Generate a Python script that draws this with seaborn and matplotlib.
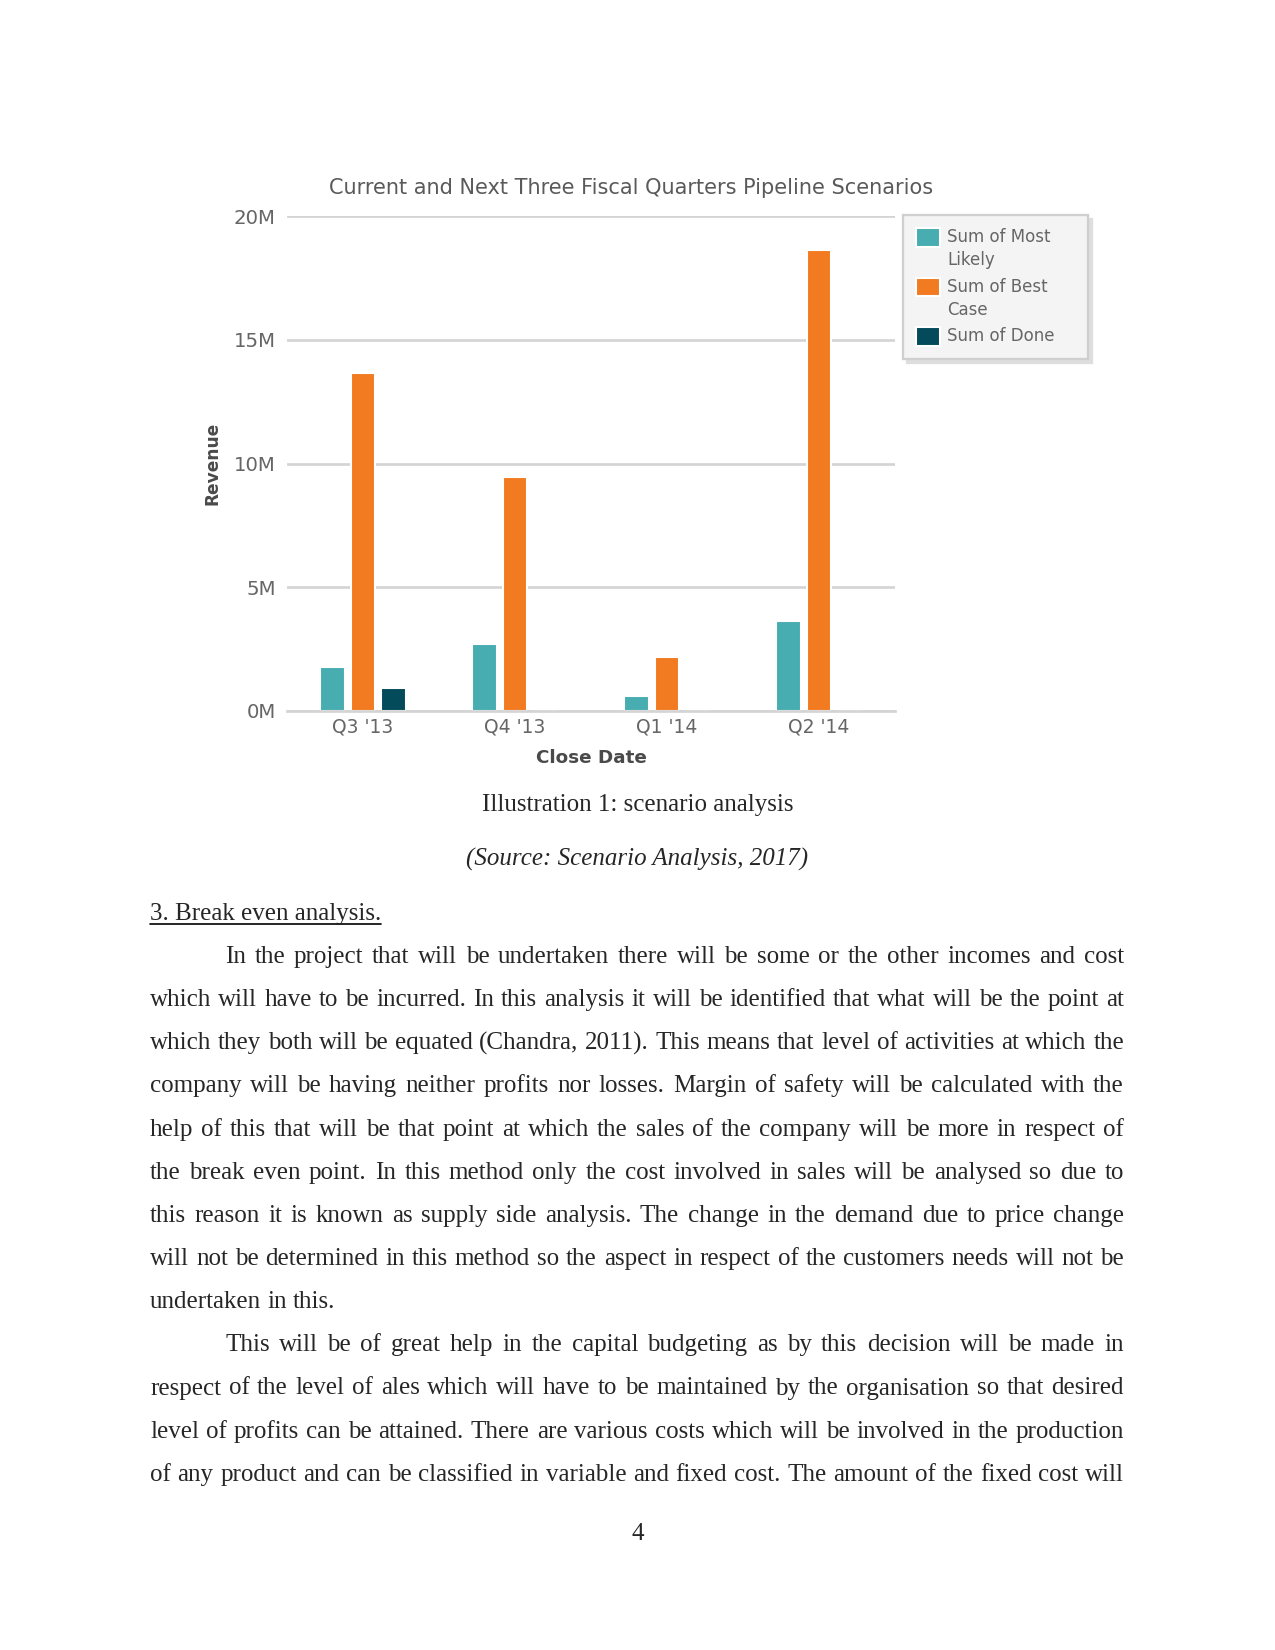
import numpy as np
import pandas as pd
import matplotlib
matplotlib.use("Agg")
import matplotlib.pyplot as plt
import seaborn as sns
from matplotlib.lines import Line2D

# ---------------- data ----------------
quarters = ["Q3 '13", "Q4 '13", "Q1 '14", "Q2 '14"]
series = ["Sum of Most Likely", "Sum of Best Case", "Sum of Done"]
most_likely = [1.78, 2.72, 0.59, 3.65]      # millions
best_case = [13.67, 9.47, 2.17, 18.64]
done = [0.93, 0.0, 0.0, 0.0]
legend_labels = ["Sum of Most\nLikely", "Sum of Best\nCase", "Sum of Done"]
colors = ["#47ADB1", "#F27B22", "#034A5A"]
yticks = [0, 5, 10, 15, 20]
ytick_labels = ["0M", "5M", "10M", "15M", "20M"]
chart_title = "Current and Next Three Fiscal Quarters Pipeline Scenarios"
xlabel = "Close Date"
ylabel = "Revenue"

caption = "Illustration 1: scenario analysis"
source = "(Source: Scenario Analysis, 2017)"
heading = "3. Break even analysis."
para1 = [
    "In the project that will be undertaken there will be some or the other incomes and cost",
    "which will have to be incurred. In this analysis it will be identified that what will be the point at",
    "which they both will be equated (Chandra, 2011). This means that level of activities at which the",
    "company will be having neither profits nor losses. Margin of safety will be calculated with the",
    "help of this that will be that point at which the sales of the company will be more in respect of",
    "the break even point. In this method only the cost involved in sales will be analysed so due to",
    "this reason it is known as supply side analysis. The change in the demand due to price change",
    "will not be determined in this method so the aspect in respect of the customers needs will not be",
    "undertaken in this.",
]
para2 = [
    "This will be of great help in the capital budgeting as by this decision will be made in",
    "respect of the level of ales which will have to be maintained by the organisation so that desired",
    "level of profits can be attained. There are various costs which will be involved in the production",
    "of any product and can be classified in variable and fixed cost. The amount of the fixed cost will",
]
page_number = "4"

df = pd.DataFrame({
    "quarter": quarters * 3,
    "series": [s for s in series for _ in quarters],
    "value": [v * 1e6 for v in most_likely + best_case + done],
})

# ---------------- figure ----------------
W, H = 1275, 1650
sns.set_style("white")
plt.rcParams["font.family"] = ["DejaVu Sans"]
fig = plt.figure(figsize=(8.5, 11), dpi=150)
fig.patch.set_facecolor("white")

ax = fig.add_axes([287 / W, 1 - 711 / H, (895 - 287) / W, (711 - 216) / H])
sns.barplot(data=df, x="quarter", y="value", hue="series", order=quarters,
            hue_order=series, palette=colors, width=0.6, gap=0.2,
            ax=ax, legend=True, saturation=1)
ax.set_xlim(-0.5, len(quarters) - 0.5)
ax.set_ylim(0, 20e6)
ax.set_yticks([v * 1e6 for v in yticks])
ax.set_yticklabels(ytick_labels)
ax.yaxis.grid(True, color="#d4d4d4", lw=1.3)
ax.set_axisbelow(True)
for s in ["top", "right", "left"]:
    ax.spines[s].set_visible(False)
ax.spines["bottom"].set_color("#d4d4d4")
ax.spines["bottom"].set_linewidth(1.3)
ax.tick_params(axis="y", length=0, pad=5.5, labelsize=9.5, labelcolor="#666666")
ax.tick_params(axis="x", length=2.5, width=1, color="#cccccc", pad=0.8,
               labelsize=9, labelcolor="#666666")
ax.set_xlabel(xlabel, fontsize=8.8, fontweight="bold", color="#4a4a4a", labelpad=6)
ax.set_ylabel(ylabel, fontsize=8.2, fontweight="bold", color="#4a4a4a", labelpad=6)
fig.text(631 / W, 1 - 188 / H, chart_title, ha="center", va="center",
         fontsize=10, color="#5a5a5a")

handles, _ = ax.get_legend_handles_labels()
leg = ax.legend(handles, legend_labels, loc="upper left",
                bbox_to_anchor=(903 / W, 1 - 357 / H, 185 / W, 142 / H),
                bbox_transform=fig.transFigure, mode="expand", borderaxespad=0,
                frameon=True, fancybox=False, facecolor="#f4f4f4", edgecolor="#cfcfcf",
                framealpha=1, fontsize=8, labelcolor="#666666",
                handlelength=1.4, handleheight=1.3, handletextpad=0.45,
                labelspacing=0.52, borderpad=0.8,
                shadow={"color": "#dedede", "alpha": 1})
leg.get_frame().set_linewidth(1.1)
for t in leg.get_texts():
    t.set_linespacing(1.35)
for col in leg._legend_handle_box.get_children():
    for row in col.get_children():
        row.align = "top"

# ---------------- page text ----------------
renderer = fig.canvas.get_renderer()
SERIF = "Liberation Serif"
FS = 12
LEFT, RIGHT = 150, 1124
INDENT = 75


def draw_line(text, y_base, left, right, justify):
    words = text.split(" ")
    objs = [fig.text(0, 0, w, fontsize=FS, family=SERIF, ha="left", va="baseline")
            for w in words]
    widths = [o.get_window_extent(renderer).width for o in objs]
    if justify and len(words) > 1:
        gap = (right - left - sum(widths)) / (len(words) - 1)
    else:
        gap = 0.25 * FS * 150 / 72
    x = left
    for o, w in zip(objs, widths):
        o.set_position((x / W, 1 - y_base / H))
        x += w + gap


fig.text(0.5, 1 - 811 / H, caption, ha="center", va="baseline", fontsize=FS, family=SERIF)
fig.text(0.5, 1 - 866 / H, source, ha="center", va="baseline", fontsize=FS,
         family=SERIF, style="italic")
ht = fig.text(LEFT / W, 1 - 920 / H, heading, ha="left", va="baseline", fontsize=FS, family=SERIF)
hw = ht.get_window_extent(renderer).width
fig.add_artist(Line2D([LEFT / W, (LEFT + hw) / W], [1 - 923.5 / H, 1 - 923.5 / H],
                      transform=fig.transFigure, color="black", lw=0.8))

LS = 43.15
y0 = 963
all_lines = [(t, i == 0, i < len(para1) - 1) for i, t in enumerate(para1)] + \
            [(t, i == 0, True) for i, t in enumerate(para2)]
for k, (t, indent, just) in enumerate(all_lines):
    draw_line(t, y0 + k * LS, LEFT + (INDENT if indent else 0), RIGHT, just)

fig.text(0.5, 1 - 1540 / H, page_number, ha="center", va="baseline", fontsize=FS, family=SERIF)

fig.savefig("out.png", dpi=150, facecolor="white")
